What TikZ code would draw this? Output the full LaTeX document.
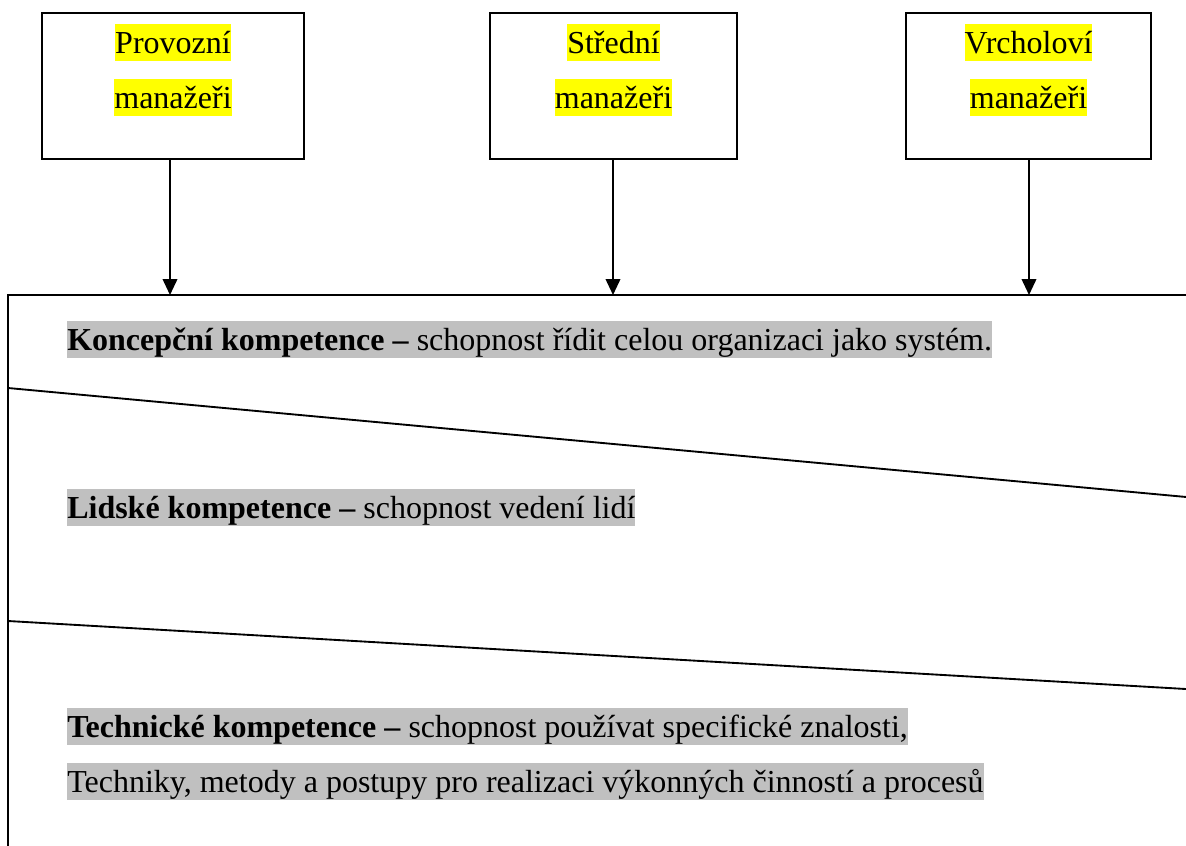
\documentclass[tikz,border=0pt]{standalone}
\usepackage{fontspec}
\setmainfont{Liberation Serif}
\usetikzlibrary{arrows.meta}
\definecolor{hlyellow}{HTML}{FFFF00}
\definecolor{hlgray}{HTML}{C0C0C0}
\begin{document}
\begin{tikzpicture}[x=0.75pt,y=-0.75pt,
  mgr/.style={draw, line width=1.4pt, minimum height=109.5pt, inner sep=0pt},
  hl/.style={inner xsep=0pt, inner ysep=0pt, text height=22.3pt, text depth=5.4pt,
             font=\fontsize{24}{30}\selectfont},
  ylw/.style={hl, fill=hlyellow, anchor=base},
  gry/.style={hl, fill=hlgray, anchor=base west},
  link/.style={line width=1.3pt, -{Triangle[length=12pt,width=11pt]}},
  rule/.style={line width=1.4pt}
]
\useasboundingbox (0,0) rectangle (1186,846);
\clip (0,0) rectangle (1186,846);

% management levels
\node[mgr, minimum width=196.5pt] (b1) at (173,86) {};
\node[mgr, minimum width=185.25pt] (b2) at (613.5,86) {};
\node[mgr, minimum width=183.75pt] (b3) at (1028.5,86) {};

\node[ylw] (p1) at (173,53.8) {Provozní};
\node[ylw] (p2) at (173,108.8) {manažeři};
\node[ylw] (s1) at (613.5,53.8) {Střední};
\node[ylw] (s2) at (613.5,108.8) {manažeři};
\node[ylw] (v1) at (1028.5,53.8) {Vrcholoví};
\node[ylw] (v2) at (1028.5,108.8) {manažeři};

% competence frame
\draw[rule] (8,870) -- (8,295) -- (1210,295);
\draw[rule] (8,388) -- (1210,499.2);
\draw[rule] (8,621) -- (1210,690.4);

\coordinate (t1) at (170,295);
\coordinate (t2) at (613,295);
\coordinate (t3) at (1029,295);
\draw[link] (t1 |- b1.south) -- (t1);
\draw[link] (t2 |- b2.south) -- (t2);
\draw[link] (t3 |- b3.south) -- (t3);

% competences
\node[gry] (k) at (67,350.8) {\textbf{Koncepční kompetence –} schopnost řídit celou organizaci jako systém.};
\node[gry] (l) at (67,518.8) {\textbf{Lidské kompetence –} schopnost vedení lidí};
\node[gry] (te) at (67,737.8) {\textbf{Technické kompetence –} schopnost používat specifické znalosti,};
\node[gry] (tf) at (67,792.8) {Techniky, metody a postupy pro realizaci výkonných činností a procesů};
\end{tikzpicture}
\end{document}
